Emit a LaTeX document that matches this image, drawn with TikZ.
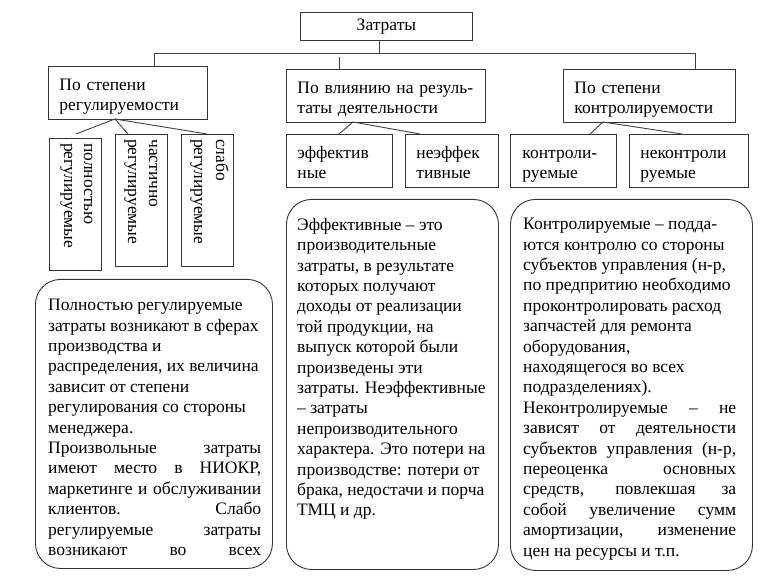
\documentclass[tikz,border=0pt]{standalone}
\usepackage{fontspec}
\setmainfont{Liberation Serif}
\newcommand{\jl}[1]{\makebox[213pt][s]{#1}}
\newcommand{\tstrut}{\rule{0pt}{21pt}}
\begin{document}
\begin{tikzpicture}[x=1pt,y=-1pt,
  every node/.style={font=\fontsize{17.5}{20.4}\selectfont, text=black},
  box/.style={draw=black!80, line width=0.9pt, anchor=north west, inner xsep=11pt, inner ysep=0pt, align=left},
  vbox/.style={draw=black!80, line width=0.9pt, anchor=north west, inner sep=0pt, minimum width=52pt, minimum height=132pt},
  rbox/.style={draw=black!80, line width=0.9pt, rounded corners=25pt, anchor=north west, inner sep=0pt},
  txt/.style={anchor=north west, inner sep=0pt, align=left},
  vtxt/.style={rotate=-90, anchor=base west, inner sep=0pt},
  conn/.style={draw=black!75, line width=0.9pt}]
\useasboundingbox (0,0) rectangle (760,577);

% top
\node[box, align=center, text width=150pt, minimum height=28pt] (zat) at (300,12) {Затраты};

% level 1
\node[box, text width=137pt, minimum height=53pt] (reg) at (48,66) {\tstrut По степени\\\strut регулируемости};
\node[box, text width=177pt, minimum height=53pt] (inf) at (286,69) {\tstrut\mbox{По влиянию на резуль-}\\\strut таты деятельности};
\node[box, text width=150pt, minimum height=53pt] (ctl) at (563,69) {\tstrut По степени\\\strut контролируемости};

% level 2 (vertical)
\node[vbox] (v1) at (49,138) {};
\node[vbox] (v2) at (115,134) {};
\node[vbox] (v3) at (181,134) {};
\node[vtxt] (v1a) at (84,143) {полностью};
\node[vtxt] (v1b) at (64,143) {регулируемые};
\node[vtxt] (v2a) at (149,139) {частично};
\node[vtxt] (v2b) at (128,139) {регулируемые};
\node[vtxt] (v3a) at (216,139) {слабо};
\node[vtxt] (v3b) at (194,139) {регулируемые};

% level 2 (middle, right)
\node[box, text width=84pt, minimum height=53pt] (eff) at (286,134) {\tstrut эффектив\\\strut ные};
\node[box, text width=71pt, minimum height=53pt] (neff) at (405,134) {\tstrut\mbox{неэффек}\\\strut тивные};
\node[box, inner xsep=12pt, text width=82pt, minimum height=53pt] (kon) at (510,134) {\tstrut контроли-\\\strut руемые};
\node[box, text width=97pt, minimum height=53pt] (nkon) at (629,134) {\tstrut неконтроли\\\strut руемые};

% rounded description boxes
\node[rbox, minimum width=237pt, minimum height=289pt] (rl) at (35,279) {};
\node[rbox, minimum width=212pt, minimum height=370pt] (rm) at (286,199) {};
\node[rbox, minimum width=242pt, minimum height=371pt] (rr) at (510,199) {};

\node[txt] (tl) at (48,299) {Полностью регулируемые\\
затраты возникают в сферах\\
производства и\\
распределения, их величина\\
зависит от степени\\
регулирования со стороны\\
менеджера.\\
\jl{Произвольные затраты}\\
\jl{имеют место в НИОКР,}\\
\jl{маркетинге и обслуживании}\\
\jl{клиентов. Слабо}\\
\jl{регулируемые затраты}\\
\jl{возникают во всех}};

\node[txt] (tm) at (297,218) {Эффективные – это\\
производительные\\
затраты, в результате\\
которых получают\\
доходы от реализации\\
той продукции, на\\
выпуск которой были\\
произведены эти\\
затраты. Неэффективные\\
– затраты\\
непроизводительного\\
характера. Это потери на\\
производстве: потери от\\
брака, недостачи и порча\\
ТМЦ и др.};

\node[txt] (tr) at (523,218) {Контролируемые – подда-\\
ются контролю со стороны\\
субъектов управления (н-р,\\
по предпритию необходимо\\
проконтролировать расход\\
запчастей для ремонта\\
оборудования,\\
находящегося во всех\\
подразделениях).\\
\jl{Неконтролируемые – не}\\
\jl{зависят от деятельности}\\
\jl{субъектов управления (н-р,}\\
\jl{переоценка основных}\\
\jl{средств, повлекшая за}\\
\jl{собой увеличение сумм}\\
\jl{амортизации, изменение}\\
цен на ресурсы и т.п.};

% connectors
\coordinate (b0) at (379,53);
\coordinate (bL) at (154,53);
\coordinate (bR) at (695,53);
\coordinate (bM) at (339,57);
\draw[conn] (zat.south -| b0) -- (b0);
\draw[conn] (bL) -- (bR);
\draw[conn] (bL) -- (reg.north -| bL);
\draw[conn] (bM) -- (inf.north -| bM);
\draw[conn] (bR) -- (ctl.north -| bR);

\coordinate (rj) at (115,119);
\coordinate (v1t) at (76,134);
\coordinate (v2t) at (128,134);
\coordinate (v3t) at (207,134);
\draw[conn] (rj) -- (v1t);
\draw[conn] (rj) -- (v2t);
\draw[conn] (rj) -- (v3t);

\coordinate (mj) at (353,122);
\coordinate (efft) at (339,134);
\coordinate (nefft) at (420,134);
\draw[conn] (mj) -- (efft);
\draw[conn] (mj) -- (nefft);

\coordinate (cj) at (603,122);
\coordinate (kont) at (590,134);
\coordinate (nkont) at (682,134);
\draw[conn] (cj) -- (kont);
\draw[conn] (cj) -- (nkont);
\end{tikzpicture}
\end{document}
